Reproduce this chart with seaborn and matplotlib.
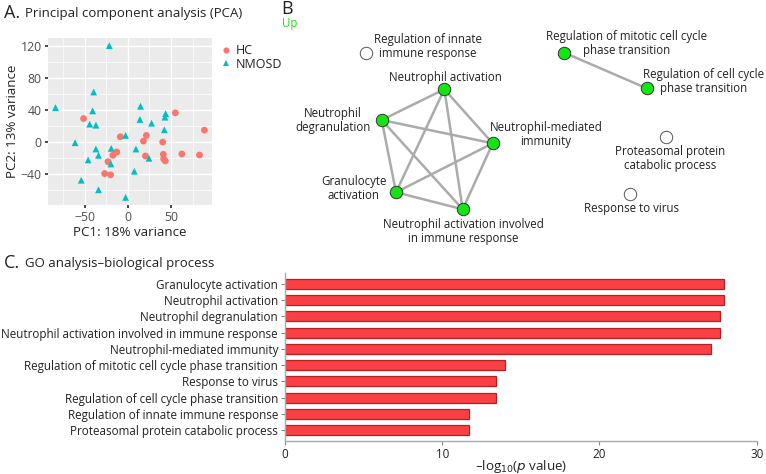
import numpy as np
import pandas as pd
import seaborn as sns
import matplotlib.pyplot as plt

# PCA scores
hc_pc1 = [-51.3, -8.7, 21.5, 18.1, -12.8, -17.4, -23.0, -26.8, -20.0, 20.4,
          40.4, 41.1, 41.5, 43.4, 55.1, 62.6, 83.0, 88.7]
hc_pc2 = [29.4, 6.6, 8.3, 1.2, -12.4, -16.6, -24.5, -39.4, -41.0, -17.4,
          0.0, -15.3, -21.1, -23.6, 36.5, -14.9, -16.2, 14.9]
nmosd_pc1 = [-21.5, -39.6, -83.8, -40.8, 14.7, -44.2, -37.0, 43.8, 43.0, 14.0,
             27.5, 42.3, -2.6, -61.1, -37.0, -19.2, 9.4, -34.0, -19.6, -46.0,
             24.5, 7.5, -54.0, -34.0, -2.6]
nmosd_pc2 = [120.6, 62.6, 43.1, 39.0, 44.8, 22.4, 21.1, 35.6, 31.1, 28.2,
             23.6, 15.3, 8.3, -0.8, -8.7, -7.9, -8.7, -16.6, -27.4, -22.4,
             -20.3, -36.5, -47.7, -59.7, -69.2]

# GO terms and -log10(p)
go_terms = ['Granulocyte activation', 'Neutrophil activation', 'Neutrophil degranulation',
            'Neutrophil activation involved in immune response', 'Neutrophil-mediated immunity',
            'Regulation of mitotic cell cycle phase transition', 'Response to virus',
            'Regulation of cell cycle phase transition', 'Regulation of innate immune response',
            'Proteasomal protein catabolic process']
go_logp = [27.9, 27.9, 27.65, 27.65, 27.1, 14.0, 13.4, 13.4, 11.7, 11.7]

# network nodes - layout in figure pixels
node_names = ['Regulation of innate\nimmune response', 'Regulation of mitotic cell cycle\nphase transition',
              'Regulation of cell cycle\nphase transition', 'Neutrophil activation',
              'Neutrophil\ndegranulation', 'Neutrophil-mediated\nimmunity', 'Granulocyte\nactivation',
              'Neutrophil activation involved\nin immune response',
              'Proteasomal protein\ncatabolic process', 'Response to virus']
node_x = [365.7, 564.3, 646.7, 444.3, 381.7, 492.7, 396.0, 462.7, 666.0, 630.0]
node_y = [52.7, 52.7, 88.3, 89.3, 120.0, 143.3, 192.3, 209.3, 137.3, 194.3]
node_up = [False, True, True, True, True, True, True, True, False, False]
edges = [(3, 4), (3, 5), (3, 6), (3, 7), (4, 5), (4, 6), (4, 7), (5, 6), (5, 7), (6, 7), (1, 2)]
label_x = [428, 627, 704, 445.3, 333, 546, 354, 463.3, 670, 631]
label_y = [46.7, 43, 81.7, 77.3, 120.7, 135, 188.7, 231.7, 158, 208.3]

W, H = 766, 474
sns.set_theme(style='darkgrid')
plt.rcParams['font.family'] = ['Open Sans', 'DejaVu Sans']
fig = plt.figure(figsize=(W / 100, H / 100), dpi=100)
fig.patch.set_facecolor('white')


def fx(x):
    return x / W


def fy(y):
    return 1 - y / H


# ---------- Panel A ----------
pca = pd.DataFrame({
    'PC1': hc_pc1 + nmosd_pc1,
    'PC2': hc_pc2 + nmosd_pc2,
    'group': ['HC'] * len(hc_pc1) + ['NMOSD'] * len(nmosd_pc1),
})
axA = fig.add_axes([fx(48), fy(205), fx(164), 167 / H])
axA.set_facecolor('#EBEBEB')
sns.scatterplot(data=pca, x='PC1', y='PC2', hue='group', style='group',
                markers={'HC': 'o', 'NMOSD': '^'},
                palette={'HC': '#F8766D', 'NMOSD': '#00BFC4'},
                s=24, linewidth=0, ax=axA)
axA.set_xlim(-92.5, 97.5)
axA.set_ylim(-78.7, 130.1)
axA.set_xticks([-50, 0, 50])
axA.set_yticks([-40, 0, 40, 80, 120])
axA.set_xticks([-75, -25, 25, 75], minor=True)
axA.set_yticks([-60, -20, 20, 60, 100], minor=True)
axA.grid(which='major', color='white', linewidth=1.0)
axA.grid(which='minor', color='white', linewidth=0.5)
axA.set_xticklabels(['\u221250', '0', '50'])
axA.set_yticklabels(['\u221240', '0', '40', '80', '120'])
axA.tick_params(axis='both', which='major', length=2.5, color='#333333', labelsize=8.8,
                labelcolor='#4D4D4D', pad=2, bottom=True, left=True)
axA.tick_params(axis='both', which='minor', length=0)
axA.set_xlabel('PC1: 18% variance', fontsize=9.6, labelpad=1, color='#222222')
axA.set_ylabel('PC2: 13% variance', fontsize=9.6, labelpad=1, color='#222222')
for s in axA.spines.values():
    s.set_visible(False)
leg = axA.legend(loc='upper left', bbox_to_anchor=(1.0, 1.0), frameon=False,
                 fontsize=9, handletextpad=0.2, borderaxespad=0.1,
                 labelspacing=0.05, markerscale=0.9, handlelength=1.2)
for t in leg.get_texts():
    t.set_color('#222222')

fig.text(fx(4), fy(13), 'A.', fontsize=13, va='center', ha='left', color='#222222')
fig.text(fx(25), fy(13), 'Principal component analysis (PCA)', fontsize=9.5,
         va='center', ha='left', color='#222222')

# ---------- Panel B ----------
axB = fig.add_axes([fx(280), 0, 486 / W, 1])
axB.set_xlim(280, 766)
axB.set_ylim(H, 0)
axB.axis('off')
for a, b in edges:
    axB.plot([node_x[a], node_x[b]], [node_y[a], node_y[b]], color='#ABABAB',
             linewidth=1.8, zorder=1, solid_capstyle='round')
nodes = pd.DataFrame({'x': node_x, 'y': node_y, 'up': node_up})
up = nodes[nodes['up']]
down = nodes[~nodes['up']]
sns.scatterplot(data=up, x='x', y='y', color='#14E614', edgecolor='#333333',
                linewidth=0.7, s=80, ax=axB, zorder=3, legend=False)
sns.scatterplot(data=down, x='x', y='y', color='white', edgecolor='#555555',
                linewidth=0.7, s=80, ax=axB, zorder=3, legend=False)
axB.set_xlabel('')
axB.set_ylabel('')
for name, lx, ly in zip(node_names, label_x, label_y):
    axB.text(lx, ly, name, fontsize=8.3, ha='center', va='center', color='#222222',
             linespacing=1.1, multialignment='center')
fig.text(fx(281), fy(9), 'B', fontsize=13, va='center', ha='left', color='#222222')
fig.text(fx(282), fy(24), 'Up', fontsize=8.3, va='center', ha='left', color='#22DD22')

# ---------- Panel C ----------
go = pd.DataFrame({'term': go_terms, 'logp': go_logp})
axC = fig.add_axes([fx(285), fy(441), 471.7 / W, 168 / H])
axC.set_facecolor('white')
sns.barplot(data=go, x='logp', y='term', orient='h', color='#F94045',
            edgecolor='#B81F24', linewidth=0.9, width=0.62, saturation=1, ax=axC)
axC.set_xlim(0, 30)
axC.set_ylim(len(go_terms) - 1 + 0.68, -0.68)
axC.set_xticks([0, 10, 20, 30])
axC.grid(False)
for side in ['top', 'right']:
    axC.spines[side].set_visible(False)
for side in ['left', 'bottom']:
    axC.spines[side].set_visible(True)
    axC.spines[side].set_color('#AAAAAA')
    axC.spines[side].set_linewidth(1.0)
axC.tick_params(axis='both', length=3, color='#888888', width=0.8,
                labelsize=8.4, labelcolor='#222222', pad=2, bottom=True, left=True)
axC.set_ylabel('')
axC.set_xlabel(r'–log$_{10}$($\it{p}$ value)', fontsize=9.6, labelpad=-2, color='#222222')
fig.text(fx(4), fy(263), 'C.', fontsize=13, va='center', ha='left', color='#222222')
fig.text(fx(25), fy(264), 'GO analysis–biological process', fontsize=9.5,
         va='center', ha='left', color='#222222')

fig.savefig('out.png', dpi=100, facecolor='white')
